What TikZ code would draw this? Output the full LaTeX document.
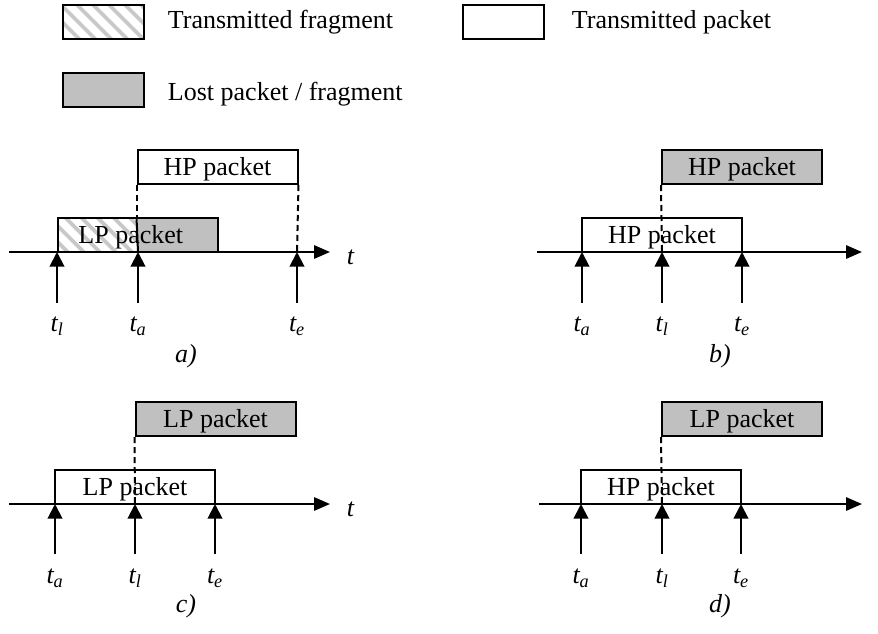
\documentclass[tikz,border=0pt]{standalone}
\usepackage{fontspec}
\setmainfont{Liberation Serif}
\usetikzlibrary{arrows.meta,patterns.meta}

\definecolor{lostgray}{RGB}{192,192,192}
\definecolor{hatchgray}{RGB}{200,200,200}

\newcommand{\txtfont}{\fontsize{19.5}{23}\selectfont}

\tikzset{every picture/.style={line width=0.75pt}}
\tikzset{
	pkt/.style={draw, line width=1.5pt, minimum width=120pt, minimum height=25.5pt, inner sep=0pt, text height=16.5pt, text depth=3.5pt},
	legbox/.style={draw, line width=1.5pt, minimum width=60.75pt, minimum height=25.5pt, inner sep=0pt},
	lost/.style={fill=lostgray},
	hatch/.style={pattern={Lines[angle=-45,distance=8.5pt,line width=2.8pt]}, pattern color=hatchgray},
	axis/.style={line width=1.5pt, -{Triangle[width=10pt,length=12pt]}},
	tick/.style={line width=1.5pt, -{Triangle[width=11pt,length=11pt]}},
	lbl/.style={anchor=base, font=\txtfont\itshape},
	tlbl/.style={anchor=base west, font=\txtfont\itshape},
	guide/.style={line width=1.5pt, dash pattern=on 4.5pt off 3pt}
}

\begin{document}
\begin{tikzpicture}[x=0.75pt,y=0.75pt,yscale=-1,every node/.style={font=\txtfont}]
	\useasboundingbox (0,0) rectangle (878,633);

	% Legend
	\node[legbox, hatch] (legFrag) at (103.5,22) {};
	\node[anchor=base west] (legFragT) at (163,28) {Transmitted fragment};
	\node[legbox] (legPkt) at (503.5,22) {};
	\node[anchor=base west] (legPktT) at (567,28) {Transmitted packet};
	\node[legbox, lost] (legLost) at (103.5,90) {};
	\node[anchor=base west] (legLostT) at (163,100) {Lost packet / fragment};

	%%%% a)
	%Shape: axis
	\coordinate (aS) at (9,252);
	\coordinate (aE) at (330,252);
	\draw[axis] (aS) -- (aE);
	\node[tlbl] (aT) at (342,264) {t};
	% packets
	\fill[hatch] (57,218) rectangle (138,252);
	\fill[lost] (138,218) rectangle (218,252);
	\node[pkt] (aLP) at (137.5,235) {\hspace*{-10pt}LP packet};
	\node[pkt] (aHP) at (217.5,167) {HP packet};
	% ticks
	\coordinate (aTl) at (57,252);
	\coordinate (aTa) at (138,252);
	\coordinate (aTe) at (297,252);
	\coordinate (aTlb) at (57,303);
	\coordinate (aTab) at (138,303);
	\coordinate (aTeb) at (297,303);
	\draw[guide] (aHP.south west) -- (aHP.south west |- aLP.north);
	\draw[line width=1.5pt] (aHP.south west |- aLP.north) -- (aTa);
	\draw[guide] (aHP.south east) -- (aTe);
	\draw[tick] (aTlb) -- (aTl);
	\draw[tick] (aTab) -- (aTa);
	\draw[tick] (aTeb) -- (aTe);
	% Text Node
	\node[lbl] (aLl) at (57,331) {t\textsubscript{l}};
	\node[lbl] (aLa) at (138,331) {t\textsubscript{a}};
	\node[lbl] (aLe) at (297,331) {t\textsubscript{e}};
	\node[lbl] (aCap) at (186,362) {a)};

	%%%% b)
	\coordinate (bS) at (537,252);
	\coordinate (bE) at (862,252);
	\draw[axis] (bS) -- (bE);
	\node[tlbl] (bT) at (874,264) {t};
	\node[pkt] (bHP) at (662,235) {HP packet};
	\node[pkt, lost] (bHPl) at (742,167) {HP packet};
	\coordinate (bTa) at (582,252);
	\coordinate (bTl) at (662,252);
	\coordinate (bTe) at (742,252);
	\coordinate (bTab) at (582,303);
	\coordinate (bTlb) at (662,303);
	\coordinate (bTeb) at (742,303);
	\draw[guide] (bHPl.south west) -- (bTl);
	\draw[tick] (bTab) -- (bTa);
	\draw[tick] (bTlb) -- (bTl);
	\draw[tick] (bTeb) -- (bTe);
	% Text Node
	\node[lbl] (bLa) at (582,331) {t\textsubscript{a}};
	\node[lbl] (bLl) at (662,331) {t\textsubscript{l}};
	\node[lbl] (bLe) at (742,331) {t\textsubscript{e}};
	\node[lbl] (bCap) at (720,362) {b)};

	%%%% c)
	\coordinate (cS) at (9,504);
	\coordinate (cE) at (330,504);
	\draw[axis] (cS) -- (cE);
	\node[tlbl] (cT) at (342,516) {t};
	\node[pkt] (cLP) at (135,487) {LP packet};
	\node[pkt, lost] (cLPl) at (215.5,419) {LP packet};
	\coordinate (cTa) at (55,504);
	\coordinate (cTl) at (135,504);
	\coordinate (cTe) at (215,504);
	\coordinate (cTab) at (55,554);
	\coordinate (cTlb) at (135,554);
	\coordinate (cTeb) at (215,554);
	\draw[guide] (cLPl.south west) -- (cTl);
	\draw[tick] (cTab) -- (cTa);
	\draw[tick] (cTlb) -- (cTl);
	\draw[tick] (cTeb) -- (cTe);
	% Text Node
	\node[lbl] (cLa) at (55,583) {t\textsubscript{a}};
	\node[lbl] (cLl) at (135,583) {t\textsubscript{l}};
	\node[lbl] (cLe) at (215,583) {t\textsubscript{e}};
	\node[lbl] (cCap) at (186,612) {c)};

	%%%% d)
	\coordinate (dS) at (539,504);
	\coordinate (dE) at (862,504);
	\draw[axis] (dS) -- (dE);
	\node[tlbl] (dT) at (874,516) {t};
	\node[pkt] (dHP) at (661,487) {HP packet};
	\node[pkt, lost] (dLPl) at (742,419) {LP packet};
	\coordinate (dTa) at (581,504);
	\coordinate (dTl) at (662,504);
	\coordinate (dTe) at (741,504);
	\coordinate (dTab) at (581,554);
	\coordinate (dTlb) at (662,554);
	\coordinate (dTeb) at (741,554);
	\draw[guide] (dLPl.south west) -- (dTl);
	\draw[tick] (dTab) -- (dTa);
	\draw[tick] (dTlb) -- (dTl);
	\draw[tick] (dTeb) -- (dTe);
	% Text Node
	\node[lbl] (dLa) at (581,583) {t\textsubscript{a}};
	\node[lbl] (dLl) at (662,583) {t\textsubscript{l}};
	\node[lbl] (dLe) at (741,583) {t\textsubscript{e}};
	\node[lbl] (dCap) at (720,612) {d)};

\end{tikzpicture}
\end{document}
